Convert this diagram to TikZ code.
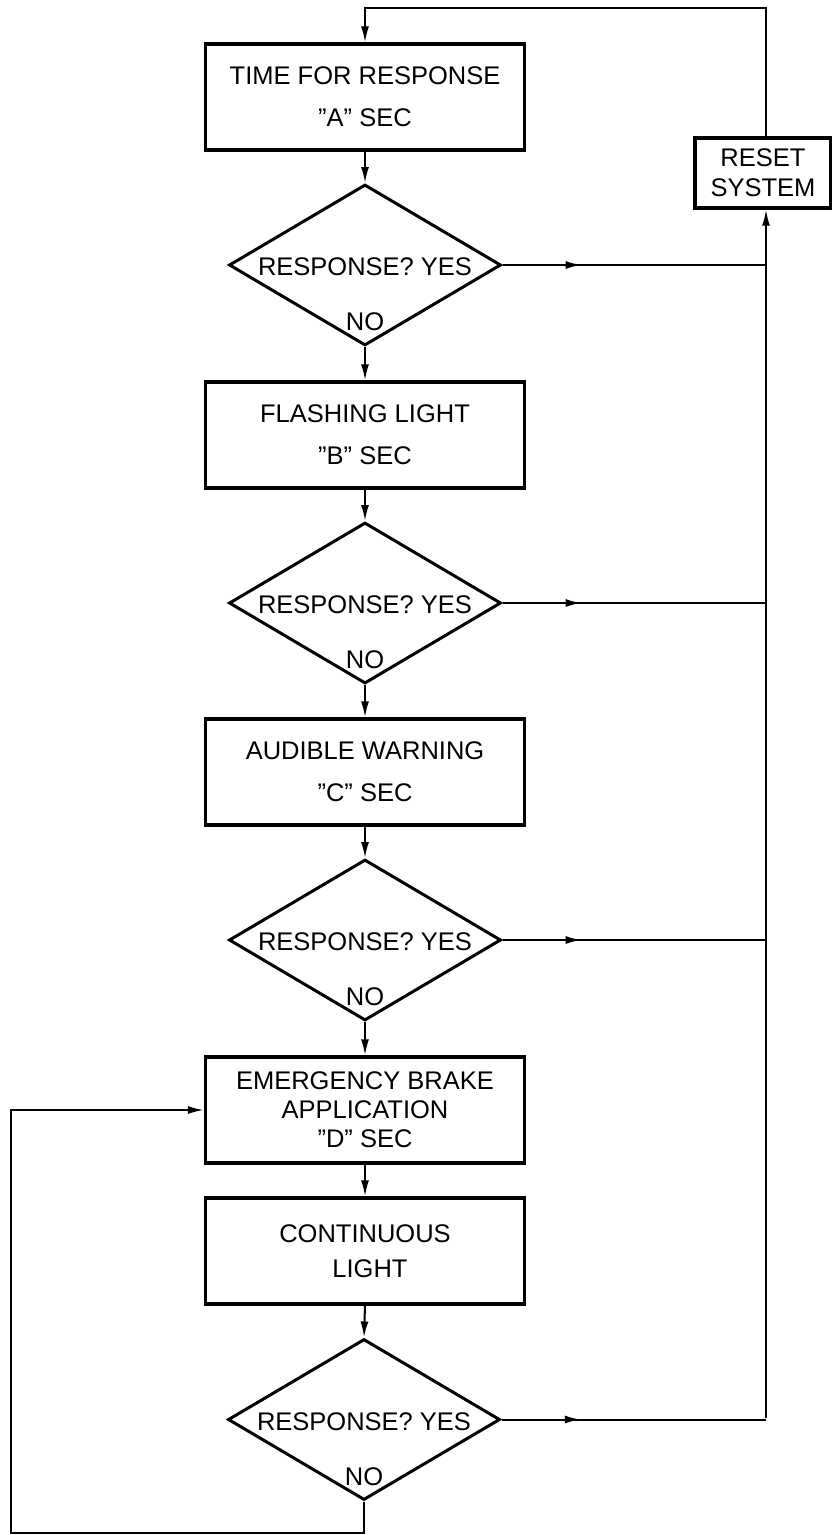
\documentclass[tikz,border=0pt]{standalone}
\usepackage{fontspec}
\setmainfont{Liberation Sans}
\usetikzlibrary{shapes.geometric,arrows.meta,decorations.markings}
\begin{document}
\begin{tikzpicture}[x=1pt,y=-1pt,
  procbox/.style={draw,line width=3.2pt,minimum width=319pt,minimum height=106pt,inner sep=0pt,align=center,font=\fontsize{25.5}{42}\selectfont},
  decision/.style={draw,diamond,line width=3pt,minimum width=272pt,minimum height=161pt,inner sep=0pt},
  lbl/.style={font=\fontsize{25.5}{30}\selectfont,inner sep=0pt},
  conn/.style={line width=2pt},
  tip/.style={-{Latex[length=16pt,width=8pt]}},
  midarrow/.style={decoration={markings,mark=at position #1 with {\arrow{Latex[length=16pt,width=8pt]}}},postaction={decorate}}
]
\useasboundingbox (0,0) rectangle (831,1535);

% process boxes
\node[procbox] (b1) at (365,97) {TIME FOR RESPONSE\\”A” SEC};
\node[procbox] (b2) at (365,435) {FLASHING LIGHT\\”B” SEC};
\node[procbox] (b3) at (365,772) {AUDIBLE WARNING\\”C” SEC};
\node[procbox,font=\fontsize{25.5}{29}\selectfont] (b4) at (365,1110) {EMERGENCY BRAKE\\APPLICATION\\”D” SEC};
\node[procbox,font=\fontsize{25.5}{35}\selectfont] (b5) at (365,1251) {CONTINUOUS\\\hspace*{10pt}LIGHT};

% decisions
\node[decision] (d1) at (365,265) {};
\node[decision] (d2) at (365,603) {};
\node[decision] (d3) at (365,940) {};
\node[decision] (d4) at (364,1419.5) {};
\foreach \d in {d1,d2,d3,d4}{
  \node[lbl] at ([yshift=-2pt]\d.center) {RESPONSE? YES};
  \node[lbl] at ([yshift=-57pt]\d.center) {NO};
}

% reset box
\node[draw,line width=3.2pt,minimum width=136pt,minimum height=70pt,inner sep=0pt,align=center,font=\fontsize{25.5}{30}\selectfont] (reset) at (763,173) {RESET\\SYSTEM};

\coordinate (rtop) at (766,8);
\coordinate (rbot) at (766,1418);
\coordinate (lcorner) at (11,1533);

% main flow
\draw[conn,tip] (b1.south) -- (d1.north);
\draw[conn,tip] (d1.south) -- (b2.north);
\draw[conn,tip] (b2.south) -- (d2.north);
\draw[conn,tip] (d2.south) -- (b3.north);
\draw[conn,tip] (b3.south) -- (d3.north);
\draw[conn,tip] (d3.south) -- (b4.north);
\draw[conn,tip] (b4.south) -- (b5.north);
\draw[conn,tip] (b5.south) -- (d4.north);

% yes branches
\foreach \d in {d1,d2,d3,d4}{
  \draw[conn,midarrow=0.3] (\d.east) -- (\d.east -| rbot);
}
\draw[conn,tip] (rbot) -- (reset.south -| rbot);
\draw[conn,tip] (reset.north -| rtop) -- (rtop) -| (b1.north);

% no loop
\draw[conn,tip] (d4.south) |- (lcorner) |- (b4.west);
\end{tikzpicture}
\end{document}
